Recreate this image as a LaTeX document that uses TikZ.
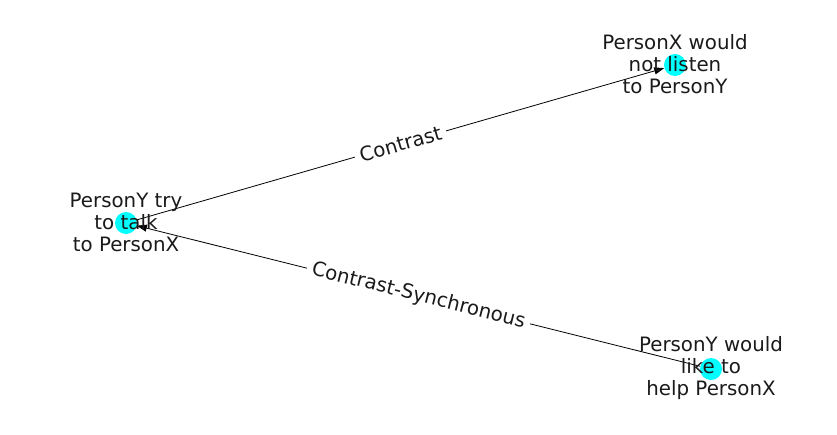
\documentclass[tikz,border=0pt]{standalone}
\usepackage{fontspec}
\setmainfont{DejaVu Sans}
\usetikzlibrary{arrows.meta}
\definecolor{nodecyan}{RGB}{0,255,255}
\definecolor{txtgray}{RGB}{26,26,26}
\begin{document}
\begin{tikzpicture}[x=1pt,y=-1pt,
  dot/.style={circle,fill=nodecyan,minimum size=22pt,inner sep=0pt},
  txt/.style={align=center,font=\fontsize{19.8}{22}\selectfont,text=txtgray,inner sep=0pt},
  edge/.style={draw=black,line width=0.8pt,-{Triangle[length=10pt,width=7pt]}},
  elabel/.style={fill=white,inner xsep=5pt,inner ysep=3pt,font=\fontsize{19.8}{22}\selectfont,text=txtgray,sloped}]
\useasboundingbox (0,0) rectangle (837,434);
\node[dot] (a) at (126,223) {};
\node[dot] (b) at (675,65) {};
\node[dot] (c) at (711,369) {};
\draw[edge] (a) -- node[elabel] (la) {Contrast} (b);
\draw[edge] (c) -- node[elabel] (lc) {Contrast-Synchronous} (a);
\node[txt] (ta) at (126,222) {PersonY try\\to talk\\to PersonX};
\node[txt] (tb) at (675,64) {PersonX would\\not listen\\to PersonY};
\node[txt] (tc) at (711,368) {PersonY would\\like to\\help PersonX};
\end{tikzpicture}
\end{document}
